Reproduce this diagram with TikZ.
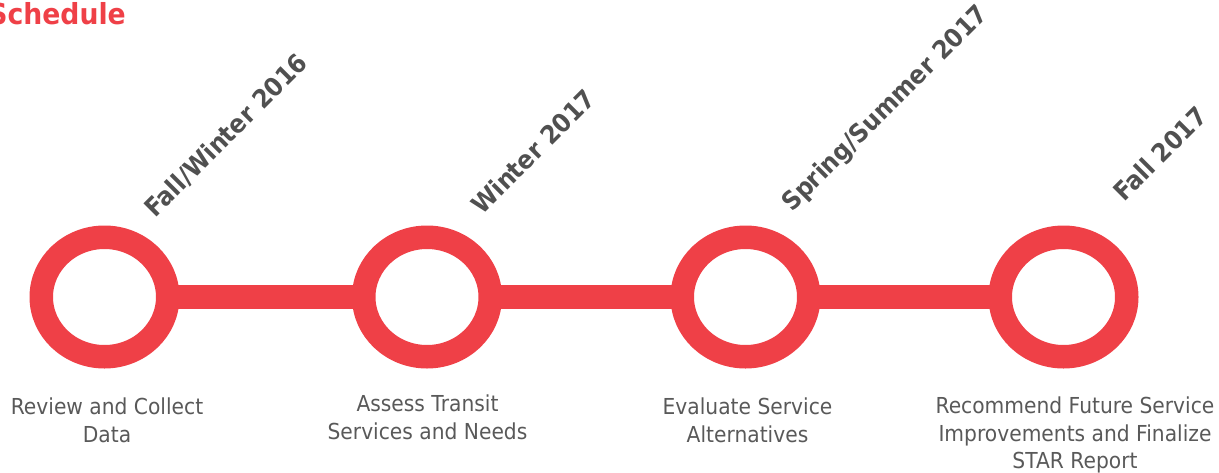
\documentclass[tikz,border=0pt]{standalone}
\usepackage{fontspec}
\setmainfont[FakeStretch=0.92]{DejaVu Sans}
\usepackage{tikz}
\usetikzlibrary{shapes.geometric}
\definecolor{schedred}{RGB}{239,64,71}
\definecolor{taskgray}{RGB}{89,89,89}
\definecolor{dategray}{RGB}{80,80,80}

\begin{document}
\begin{tikzpicture}[x=1pt,y=1pt,line join=round,
  ring/.style={ellipse,draw=schedred,fill=white,line width=23.5pt,
    minimum width=126.5pt,minimum height=119.5pt,inner sep=0pt,outer sep=0pt},
  link/.style={draw=schedred,line width=24pt},
  date/.style={rotate=45,anchor=base west,inner sep=0pt,text=dategray,
    font=\fontsize{25.5}{30}\selectfont\bfseries},
  task/.style={anchor=north,align=center,inner sep=0pt,text=taskgray,
    font=\fontsize{22}{27.5}\selectfont}]
  \useasboundingbox (0,0) rectangle (1219,-472);
  % title
  \node[anchor=base east,inner sep=0pt,text=schedred,
    font=\fontsize{29}{34}\selectfont\bfseries] (title) at (126,-24) {Schedule};
  % milestones
  \node[ring] (c1) at (104.5,-297) {};
  \node[ring] (c2) at (427.0,-297) {};
  \node[ring] (c3) at (745.5,-297) {};
  \node[ring] (c4) at (1063.5,-297) {};
  \draw[link] (c1.east) -- (c2.west);
  \draw[link] (c2.east) -- (c3.west);
  \draw[link] (c3.east) -- (c4.west);
  % dates
  \node[date] (d1) at (155,-219) {Fall/Winter 2016};
  \node[date] (d2) at (482,-216) {Winter 2017};
  \node[date] (d3) at (792,-213) {Spring/Summer 2017};
  \node[date] (d4) at (1124,-203) {Fall 2017};
  % tasks
  \node[task] (t1) at (107,-398) {Review and Collect\\Data};
  \node[task] (t2) at (427.5,-395) {Assess Transit\\Services and Needs};
  \node[task] (t3) at (747.5,-398) {Evaluate Service\\Alternatives};
  \node[task] (t4) at (1075,-397) {Recommend Future Service\\Improvements and Finalize\\STAR Report};
\end{tikzpicture}
\end{document}
